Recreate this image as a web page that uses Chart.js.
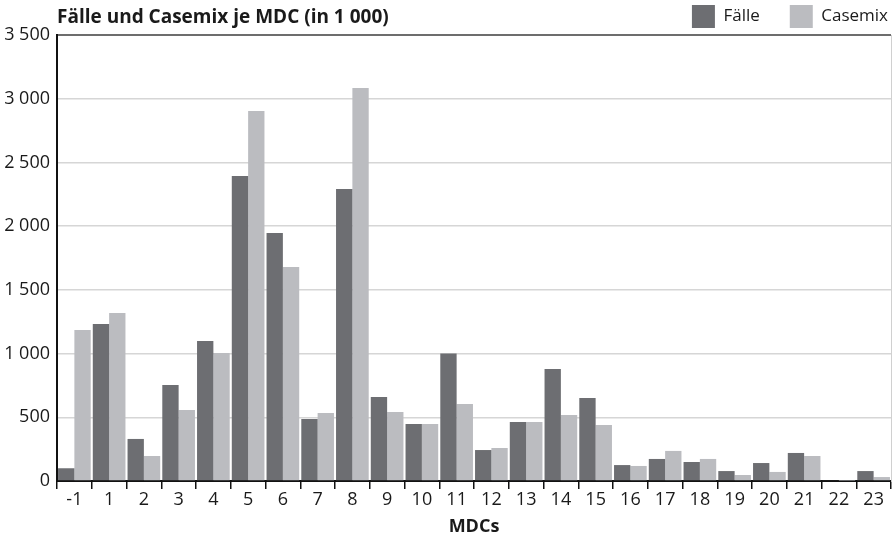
<!DOCTYPE html>
<html>
<head>
<meta charset="utf-8">
<script src="https://cdn.jsdelivr.net/npm/chart.js@4"></script>
<style>
    html, body { margin: 0; padding: 0; background: #fff; }
    #wrap { position: relative; width: 894px; height: 543px; }
    #title {
        position: absolute; left: 57px; top: 3px;
        font: bold 19px "Open Sans", sans-serif; color: #1a1a1a;
    }
</style>
</head>
<body>
<div id="wrap">
    <div id="title">Fälle und Casemix je MDC (in 1 000)</div>
    <canvas id="chart" width="894" height="543"></canvas>
</div>
<script>
// Data (in 1 000)
const MDC_LABELS = ['-1', '1', '2', '3', '4', '5', '6', '7', '8', '9', '10', '11',
    '12', '13', '14', '15', '16', '17', '18', '19', '20', '21', '22', '23'];
const FAELLE = [100, 1232, 330, 753, 1099, 2394, 1947, 487, 2292, 660, 447, 1000,
    243, 463, 879, 651, 125, 173, 149, 78, 141, 220, 5, 78];
const CASEMIX = [1185, 1318, 196, 557, 1005, 2904, 1680, 534, 3085, 542, 447, 604,
    259, 463, 518, 440, 118, 236, 173, 47, 71, 196, 2, 31];
const Y_TICKS = [0, 500, 1000, 1500, 2000, 2500, 3000, 3500];

const FONT = '"Open Sans", sans-serif';
const LEGEND_GAP = 30; // space between legend items
const fmt = v => String(v).replace(/\B(?=(\d{3})+(?!\d))/g, ' ');

new Chart(document.getElementById('chart'), {
    type: 'bar',
    data: {
        labels: MDC_LABELS,
        datasets: [
            { label: 'Fälle', data: FAELLE, backgroundColor: '#6d6e72' },
            { label: 'Casemix', data: CASEMIX, backgroundColor: '#bbbcc0' }
        ]
    },
    options: {
        responsive: false,
        animation: false,
        // negative padding cancels the legend's own item padding at the edges
        layout: { padding: { left: 0, right: 6 - LEGEND_GAP, top: 5 - LEGEND_GAP, bottom: 0 } },
        datasets: { bar: { categoryPercentage: 0.94, barPercentage: 1.0 } },
        plugins: {
            tooltip: { enabled: false },
            legend: {
                position: 'top',
                align: 'end',
                maxHeight: 60,
                labels: {
                    boxWidth: 23, boxHeight: 23, padding: LEGEND_GAP,
                    color: '#1a1a1a',
                    font: { family: FONT, size: 17 }
                }
            }
        },
        scales: {
            x: {
                offset: true,
                grid: {
                    offset: true, drawOnChartArea: false, drawTicks: true,
                    tickLength: 8, color: '#111', lineWidth: 1.5
                },
                border: { color: '#111', width: 2 },
                ticks: { color: '#1a1a1a', padding: 0, font: { family: FONT, size: 18 } },
                title: {
                    display: true, text: 'MDCs', color: '#1a1a1a',
                    font: { family: FONT, size: 18, weight: 'bold' },
                    padding: { top: 0, bottom: 5 }
                },
                afterFit: s => { s.height = 62; }
            },
            y: {
                min: 0, max: 3500,
                afterBuildTicks: s => { s.ticks = Y_TICKS.map(v => ({ value: v })); },
                grid: {
                    drawTicks: false,
                    color: c => c.tick.value === 3500 ? '#6d6d6d' : '#d6d6d6',
                    lineWidth: c => c.tick.value === 3500 ? 2 : 1.5
                },
                border: { color: '#111', width: 2 },
                ticks: {
                    color: '#1a1a1a', padding: 7,
                    font: { family: FONT, size: 18 },
                    callback: v => fmt(v)
                },
                afterFit: s => { s.width = 57; }
            },
            y2: {
                position: 'right',
                min: 0, max: 3500,
                grid: { display: false },
                ticks: { display: false },
                border: { color: '#d0d0d0', width: 1 },
                afterFit: s => { s.width = LEGEND_GAP - 3; }
            }
        }
    }
});
</script>
</body>
</html>
